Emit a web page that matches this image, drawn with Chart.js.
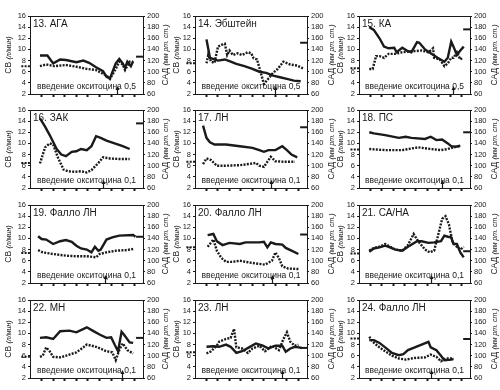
<!DOCTYPE html>
<html>
<head>
<meta charset="utf-8">
<script src="https://cdn.jsdelivr.net/npm/chart.js@4.4.1/dist/chart.umd.min.js"></script>
<style>
  body { margin: 0; background: #fff; }
  #wrap { position: relative; width: 500px; height: 390px; overflow: hidden; }
  canvas { position: absolute; }
</style>
</head>
<body>
<div id="wrap"></div>
<script>
// Ticks
const xTicks = [1, 2, 3, 4, 5, 6, 7, 8, 9];
const cbTicks = [2, 4, 6, 8, 10, 12, 14, 16];
const sadTicks = [60, 80, 100, 120, 140, 160, 180, 200];

// Panels
const panelNames = ['13. АГА', '14. Эбштейн', '15. КА', '16. ЗАК', '17. ЛН', '18. ПС',
  '19. Фалло ЛН', '20. Фалло ЛН', '21. СА/НА', '22. МН', '23. ЛН', '24. Фалло ЛН'];
const doses = ['0,5', '0,5', '0,5', '0,1', '0,1', '0,1', '0,1', '0,1', '0,1', '0,1', '0,1', '0,1'];
const arrowAt = [7.5, 7.0, 8.3, 6.3, 6.6, 7.3, 6.5, 6.7, 6.3, 7.9, 7.6, 6.3];
const baseCB = [7.0, 7.5, 6.6, 6.5, 6.7, 8.9, 7.4, 8.4, 7.3, 5.8, 6.6, 9.1];
const baseSAD = [127, 152, 176, 176, 169, 160, 143, 147, 117, 132, 114, 130];

// САД (solid, мм рт. ст.) and СВ (dotted, л/мин): [time, value]
const sad13 = [[0.86,129],[1.5,129],[2.0,115],[2.6,122],[3.1,121],[4.0,117],[4.6,120],[5.1,116],[5.7,108],[6.3,101],[6.6,91],[6.9,88],[7.4,115],[7.7,123],[8.0,115],[8.2,107],[8.4,118],[8.7,110],[8.9,119]];
const cb13 = [[0.86,7.0],[1.4,7.3],[2.1,7.0],[3.1,7.2],[4.0,6.9],[4.9,6.5],[5.7,6.3],[6.6,5.3],[6.9,4.7],[7.4,6.5],[7.7,7.8],[8.0,7.3],[8.2,6.3],[8.6,7.8],[8.9,7.8]];

const sad14 = [[1.0,158],[1.3,125],[1.7,122],[2.0,120],[2.6,122],[3.0,119],[3.6,114],[4.3,110],[5.0,105],[5.6,100],[6.2,98],[6.8,93],[7.4,90],[8.0,87],[8.6,84],[9.2,83]];
const cb14 = [[1.0,7.5],[1.15,9.0],[1.4,7.8],[1.7,7.6],[2.0,10.5],[2.3,10.8],[2.6,11.0],[2.8,9.0],[3.0,9.8],[3.3,9.0],[3.7,9.3],[4.1,9.0],[4.6,9.5],[4.9,9.3],[5.1,8.4],[5.4,8.2],[5.7,6.0],[6.0,3.8],[6.4,4.8],[6.8,5.8],[7.2,6.5],[7.7,7.8],[8.3,7.3],[8.9,7.1],[9.4,6.6]];

const sad15 = [[0.9,180],[1.3,175],[1.8,160],[2.2,145],[2.6,142],[3.1,143],[3.3,135],[3.8,143],[4.2,138],[4.6,135],[5.1,153],[5.3,152],[5.8,140],[6.3,133],[6.9,125],[7.5,118],[7.8,125],[8.1,154],[8.3,145],[8.6,130],[8.9,138],[9.2,145]];
const cb15 = [[0.9,6.5],[1.2,6.5],[1.5,8.8],[1.8,8.8],[2.2,8.5],[2.6,9.2],[3.2,9.2],[3.8,9.5],[4.3,9.6],[4.9,9.7],[5.5,9.8],[6.1,9.5],[6.5,10.2],[6.6,8.5],[7.1,8.2],[7.5,7.0],[7.8,7.5],[8.1,8.5],[8.3,8.5],[8.6,9.5],[8.9,8.2],[9.1,8.5]];

const sad16 = [[0.86,185],[1.3,170],[1.7,155],[2.3,130],[2.7,120],[3.1,117],[3.6,125],[4.0,126],[4.4,130],[4.9,128],[5.3,135],[5.7,153],[6.1,150],[6.6,145],[7.3,140],[8.0,135],[8.6,130]];
const cb16 = [[0.86,6.4],[1.3,9.3],[1.7,10.0],[2.0,9.8],[2.4,7.5],[2.9,5.3],[3.3,5.0],[3.9,4.9],[4.4,5.0],[4.9,4.8],[5.3,5.2],[5.9,6.5],[6.3,7.5],[6.9,7.3],[7.7,7.2],[8.6,7.2]];

const sad17 = [[0.7,172],[1.0,150],[1.3,142],[1.7,138],[2.7,138],[3.9,135],[5.0,132],[5.6,128],[6.0,125],[6.4,128],[7.0,128],[7.6,135],[8.0,128],[8.4,120],[8.9,115]];
const cb17 = [[0.7,6.3],[1.0,7.3],[1.4,7.0],[1.9,6.0],[2.7,6.0],[3.9,6.1],[4.7,6.3],[5.3,6.5],[5.6,6.0],[6.0,5.8],[6.6,7.6],[7.0,6.8],[7.9,6.7],[8.7,6.7]];

const sad18 = [[0.9,160],[1.3,158],[2.3,155],[3.5,150],[4.1,152],[4.6,150],[5.8,148],[6.3,152],[6.8,146],[7.3,147],[7.8,140],[8.1,135],[8.5,134],[8.9,136]];
const cb18 = [[0.9,9.0],[2.3,8.8],[3.8,8.8],[5.2,9.3],[6.3,9.0],[7.2,8.8],[7.8,9.0],[8.3,9.3],[8.9,9.5]];

const sad19 = [[0.7,144],[1.0,139],[1.4,138],[2.0,130],[2.6,135],[3.1,137],[3.6,134],[4.0,127],[4.4,122],[4.9,120],[5.3,115],[5.6,125],[5.9,118],[6.1,120],[6.6,138],[7.1,142],[7.7,145],[8.9,146],[9.1,143]];
const cb19 = [[0.7,7.9],[1.1,7.5],[2.0,7.2],[3.1,6.9],[4.0,6.8],[4.9,6.8],[5.7,6.6],[6.0,7.2],[6.6,7.5],[7.4,7.8],[8.3,7.9],[8.9,8.1]];

const sad20 = [[1.1,146],[1.6,148],[1.9,135],[2.4,128],[3.0,132],[3.9,130],[4.4,133],[5.6,133],[6.0,134],[6.3,124],[6.6,133],[7.0,130],[7.6,129],[7.9,123],[8.4,118],[9.0,112]];
const cb20 = [[1.1,8.5],[1.6,9.8],[1.9,7.8],[2.3,6.5],[2.7,5.8],[3.3,5.8],[3.9,6.0],[4.4,5.8],[5.3,5.5],[6.1,5.3],[6.7,6.0],[7.0,7.5],[7.3,6.5],[7.6,5.0],[8.1,4.6],[9.0,4.5]];

const sad21 = [[0.9,116],[1.3,122],[1.8,124],[2.3,127],[2.6,125],[3.2,120],[3.8,118],[4.3,125],[5.1,135],[5.5,135],[6.1,132],[6.6,133],[7.2,135],[7.5,145],[7.8,143],[8.1,142],[8.3,130],[8.6,130],[8.9,115],[9.2,106]];
const cb21 = [[0.9,7.8],[1.3,8.3],[1.8,8.5],[2.3,9.0],[3.2,8.0],[3.8,7.8],[4.3,8.8],[4.8,10.8],[5.2,9.5],[5.8,8.0],[6.2,7.5],[6.6,7.8],[7.0,11.0],[7.3,13.5],[7.6,14.0],[7.9,12.5],[8.2,9.5],[8.6,8.5],[8.9,8.0],[9.2,8.5]];

const sad22 = [[0.86,132],[1.4,133],[2.0,130],[2.6,144],[3.4,145],[4.0,142],[4.9,151],[5.4,145],[6.0,138],[6.6,132],[7.0,133],[7.3,120],[7.6,108],[7.9,143],[8.1,138],[8.6,124],[8.9,123]];
const cb22 = [[0.86,5.8],[1.1,6.0],[1.4,7.5],[1.7,6.8],[2.0,5.8],[2.6,5.7],[3.1,6.0],[4.0,6.6],[4.6,7.5],[4.9,8.0],[5.7,7.6],[6.6,6.8],[7.1,6.6],[7.4,5.2],[7.7,7.0],[8.0,8.2],[8.4,7.0],[8.9,6.4]];

const sad23 = [[1.0,116],[1.6,117],[2.1,116],[2.7,120],[3.1,116],[3.6,105],[4.1,108],[4.7,115],[5.3,122],[5.9,118],[6.4,113],[7.0,118],[7.6,118],[7.9,107],[8.3,113],[8.7,116],[9.3,114]];
const cb23 = [[1.0,6.4],[1.4,6.8],[1.9,7.8],[2.1,8.5],[2.7,9.0],[3.1,9.2],[3.4,10.8],[3.6,7.5],[4.1,7.3],[4.6,6.5],[5.0,7.3],[5.6,7.8],[6.1,6.8],[6.7,7.8],[7.3,7.0],[7.7,9.0],[8.0,10.2],[8.3,8.5],[8.7,7.8],[9.0,8.0]];

const sad24 = [[0.9,128],[1.3,128],[1.8,123],[2.3,115],[2.9,105],[3.5,101],[3.9,103],[4.3,110],[4.9,115],[5.5,120],[6.1,125],[6.3,115],[6.8,110],[7.2,100],[7.5,92],[8.1,93],[8.3,94]];
const cb24 = [[0.9,9.4],[1.2,8.5],[1.8,7.5],[2.3,6.8],[2.9,6.0],[3.5,5.5],[4.1,5.3],[4.9,5.6],[5.8,5.7],[6.3,6.2],[6.8,5.8],[7.2,5.0],[7.6,5.5],[8.3,5.5]];

const sadSeries = [sad13, sad14, sad15, sad16, sad17, sad18, sad19, sad20, sad21, sad22, sad23, sad24];
const cbSeries = [cb13, cb14, cb15, cb16, cb17, cb18, cb19, cb20, cb21, cb22, cb23, cb24];

// Layout
const X_MAX = 9.75;
const plotLeft = [30, 195, 359];
const plotW = [113, 112, 111];
const plotTop = [16, 110, 205, 300];
const leftTitleGap = [21, 18, 18];
const rightTitleGap = [23, 25, 25];
const PLOT_H = 78;
const PAD_L = 34, PAD_R = 32, PAD_T = 7, PAD_B = 8;
const FONT = '"Liberation Sans", Arial, sans-serif';
const INK = '#1a1a1a';

const toXY = arr => arr.map(p => ({ x: p[0], y: p[1] }));

// Rotated axis title: upright part + italic part
function drawAxisTitle(ctx, x, y, main, sub) {
  ctx.save();
  ctx.translate(x, y);
  ctx.rotate(-Math.PI / 2);
  ctx.textBaseline = 'middle';
  ctx.textAlign = 'left';
  const f1 = '8.5px ' + FONT, f2 = 'italic 7px ' + FONT;
  ctx.font = f1; const w1 = ctx.measureText(main).width;
  ctx.font = f2; const w2 = ctx.measureText(sub).width;
  const start = -(w1 + w2) / 2;
  ctx.font = f1; ctx.fillText(main, start, 0);
  ctx.font = f2; ctx.fillText(sub, start + w1, 0);
  ctx.restore();
}

function notesPlugin(i) {
  const col = i % 3;
  return {
    id: 'notes' + i,
    afterDraw(chart) {
      const { ctx, chartArea: a, scales } = chart;
      ctx.save();
      // frame
      ctx.strokeStyle = INK;
      ctx.lineWidth = 1;
      ctx.strokeRect(Math.round(a.left) + 0.5, Math.round(a.top) + 0.5,
        Math.round(a.right - a.left), Math.round(a.bottom - a.top));
      ctx.fillStyle = INK;
      // panel name
      ctx.font = '10px ' + FONT;
      ctx.textAlign = 'left';
      ctx.textBaseline = 'middle';
      ctx.fillText(panelNames[i], a.left + 3, a.top + 8);
      // annotation
      ctx.font = '8.5px ' + FONT;
      ctx.textAlign = 'center';
      ctx.fillText('введение окситоцина ' + doses[i], (a.left + a.right) / 2, a.bottom - 7);
      // arrow
      const ax = Math.round(scales.x.getPixelForValue(arrowAt[i])) + 0.5;
      ctx.lineWidth = 1.2;
      ctx.beginPath();
      ctx.moveTo(ax, a.bottom);
      ctx.lineTo(ax, a.bottom - 6);
      ctx.stroke();
      ctx.beginPath();
      ctx.moveTo(ax - 2, a.bottom - 4);
      ctx.lineTo(ax, a.bottom - 8);
      ctx.lineTo(ax + 2, a.bottom - 4);
      ctx.closePath();
      ctx.fill();
      // axis titles
      const my = (a.top + a.bottom) / 2;
      drawAxisTitle(ctx, a.left - leftTitleGap[col], my, 'СВ ', '(л/мин)');
      drawAxisTitle(ctx, a.right + rightTitleGap[col], my, 'САД ', '(мм рт. ст.)');
      ctx.restore();
    }
  };
}

function makePanel(i) {
  const col = i % 3, row = Math.floor(i / 3);
  const canvas = document.createElement('canvas');
  const w = PAD_L + plotW[col] + PAD_R;
  const h = PAD_T + PLOT_H + PAD_B;
  canvas.width = w;
  canvas.height = h;
  canvas.style.left = (plotLeft[col] - PAD_L) + 'px';
  canvas.style.top = (plotTop[row] - PAD_T) + 'px';
  canvas.style.width = w + 'px';
  canvas.style.height = h + 'px';
  document.getElementById('wrap').appendChild(canvas);

  const tickFont = { family: FONT, size: 7.5 };

  new Chart(canvas, {
    type: 'line',
    data: {
      datasets: [
        { data: toXY(sadSeries[i]), yAxisID: 'yR', borderColor: INK, borderWidth: 2.4 },
        { data: toXY(cbSeries[i]), yAxisID: 'y', borderColor: INK, borderWidth: 2.4, borderDash: [2, 1.3] },
        { data: [{ x: -0.75, y: baseCB[i] }, { x: 0.05, y: baseCB[i] }], yAxisID: 'y',
          borderColor: INK, borderWidth: 2, borderDash: [2, 1.3], clip: false },
        { data: [{ x: X_MAX - 0.6, y: baseSAD[i] }, { x: X_MAX, y: baseSAD[i] }], yAxisID: 'yR',
          borderColor: INK, borderWidth: 2, clip: false }
      ]
    },
    options: {
      responsive: false,
      animation: false,
      events: [],
      layout: { padding: { top: PAD_T, left: 0, right: 0, bottom: 0 } },
      elements: { point: { radius: 0 }, line: { tension: 0, borderCapStyle: 'butt' } },
      plugins: { legend: { display: false }, tooltip: { enabled: false } },
      scales: {
        x: {
          type: 'linear', min: 0, max: X_MAX,
          afterBuildTicks: s => { s.ticks = xTicks.map(v => ({ value: v })); },
          afterFit: s => { s.height = PAD_B; },
          ticks: { display: false, autoSkip: false },
          border: { display: false },
          grid: { drawOnChartArea: false, tickLength: 3, tickWidth: 2, color: INK }
        },
        y: {
          position: 'left', min: 2, max: 16,
          afterBuildTicks: s => { s.ticks = cbTicks.map(v => ({ value: v })); },
          afterFit: s => { s.width = PAD_L; },
          ticks: { font: tickFont, color: INK, padding: 2, autoSkip: false },
          border: { display: false },
          grid: { drawOnChartArea: false, tickLength: 2, color: INK }
        },
        yR: {
          position: 'right', min: 60, max: 200,
          afterBuildTicks: s => { s.ticks = sadTicks.map(v => ({ value: v })); },
          afterFit: s => { s.width = PAD_R; },
          ticks: { font: tickFont, color: INK, padding: 2, autoSkip: false },
          border: { display: false },
          grid: { drawOnChartArea: false, tickLength: 2, color: INK }
        }
      }
    },
    plugins: [notesPlugin(i)]
  });
}

for (let i = 0; i < 12; i++) makePanel(i);
</script>
</body>
</html>
